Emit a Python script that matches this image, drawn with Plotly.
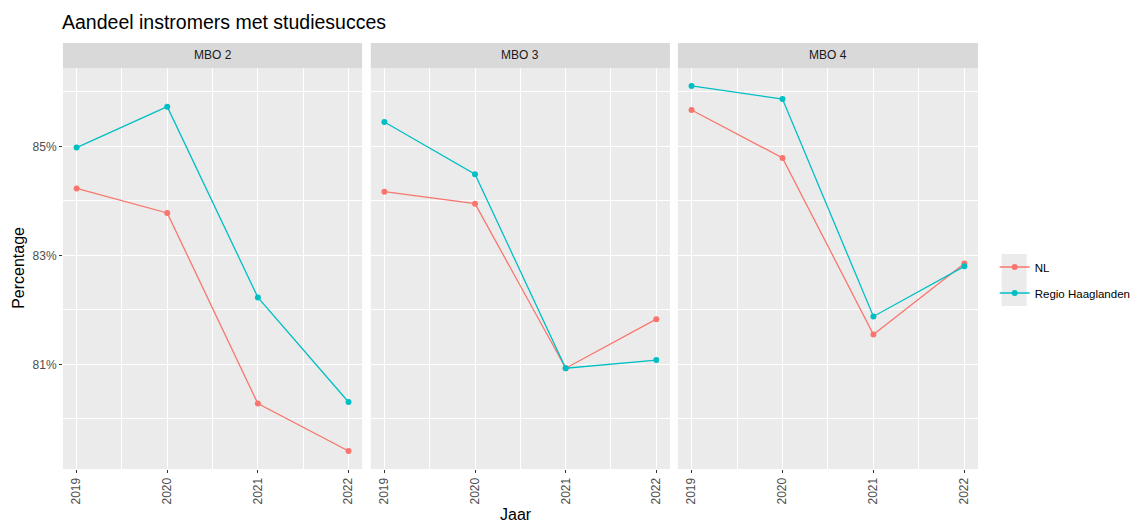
import plotly.graph_objects as go

years = [2019, 2020, 2021, 2022]
panels = ["MBO 2", "MBO 3", "MBO 4"]
nl = {
    "MBO 2": [84.23, 83.78, 80.28, 79.41],
    "MBO 3": [84.17, 83.95, 80.93, 81.83],
    "MBO 4": [85.67, 84.79, 81.55, 82.85],
}
regio = {
    "MBO 2": [84.98, 85.73, 82.23, 80.31],
    "MBO 3": [85.45, 84.49, 80.93, 81.08],
    "MBO 4": [86.11, 85.87, 81.88, 82.80],
}
series = [("NL", nl, "#F8766D", "legend"), ("Regio Haaglanden", regio, "#00BFC4", "legend2")]
y_major = [81, 83, 85]
y_labels = ["81%", "83%", "85%"]

OFF = 8  # page body margin
W, H = 1143 - OFF, 523 - OFF

def P(v):
    return v - OFF

panel_px = [(P(62.7), P(362.0)), (P(370.7), P(670.0)), (P(678.0), P(978.3))]
plot_top_px = P(68)
strip_top_px = P(43)
plot_bot_px = P(469)
ml = panel_px[0][0]
mr = W - panel_px[2][1]
mt = strip_top_px
mb = H - plot_bot_px
pw = W - ml - mr
ph = H - mt - mb

def px_x(x):
    return (x - ml) / pw

def px_y(y):
    return (plot_bot_px - y) / ph

fig = go.Figure()
font_family = "Liberation Sans, Arial, sans-serif"

for i, p in enumerate(panels):
    ax = "" if i == 0 else str(i + 1)
    for name, d, col, lg in series:
        fig.add_trace(go.Scatter(
            x=years, y=d[p], mode="lines+markers", name=name,
            line=dict(color=col, width=1.3), marker=dict(color=col, size=6),
            xaxis="x" + ax, yaxis="y" + ax, showlegend=(i == 0), legendgroup=name,
            legend=lg,
        ))
    x0, x1 = panel_px[i]
    xa = dict(
        domain=[px_x(x0), px_x(x1)], range=[2018.85, 2022.15],
        tickvals=years, ticktext=[str(y) for y in years], tickangle=-90,
        showgrid=True, gridcolor="white", gridwidth=1.1,
        minor=dict(tickvals=[2019.5, 2020.5, 2021.5], showgrid=True, gridcolor="white", gridwidth=0.5, ticks=""),
        ticks="outside", ticklen=3, tickcolor="#333333", tickwidth=1,
        tickfont=dict(size=12, color="#4D4D4D", family=font_family),
        zeroline=False, showline=False, anchor="y" + ax, fixedrange=True,
    )
    ya = dict(
        domain=[0, px_y(plot_top_px)], range=[79.08, 86.44],
        tickvals=y_major, ticktext=y_labels,
        showgrid=True, gridcolor="white", gridwidth=1.1,
        minor=dict(tickvals=[80, 82, 84, 86], showgrid=True, gridcolor="white", gridwidth=0.5, ticks=""),
        ticks="outside" if i == 0 else "", ticklen=3, tickcolor="#333333", tickwidth=1,
        showticklabels=(i == 0),
        tickfont=dict(size=12, color="#4D4D4D", family=font_family),
        zeroline=False, showline=False, anchor="x" + ax, fixedrange=True,
    )
    fig.layout["xaxis" + ax] = xa
    fig.layout["yaxis" + ax] = ya
    fig.add_shape(type="rect", xref="paper", yref="paper",
                  x0=px_x(x0), x1=px_x(x1), y0=px_y(plot_top_px), y1=px_y(strip_top_px),
                  fillcolor="#D9D9D9", line=dict(width=0), layer="below")
    fig.add_annotation(text=p, xref="paper", yref="paper",
                       x=(px_x(x0) + px_x(x1)) / 2, y=(px_y(plot_top_px) + px_y(strip_top_px)) / 2,
                       showarrow=False, font=dict(size=12, color="#1A1A1A", family=font_family),
                       xanchor="center", yanchor="middle")

fig.add_shape(type="rect", xref="paper", yref="paper",
              x0=px_x(P(1002)), x1=px_x(P(1027)), y0=px_y(P(306)), y1=px_y(P(254)),
              fillcolor="#EBEBEB", line=dict(width=0), layer="below")

fig.add_annotation(text="Jaar", xref="paper", yref="paper", x=px_x(P(516)), y=px_y(P(514)),
                   showarrow=False, font=dict(size=16, color="black", family=font_family),
                   xanchor="center", yanchor="middle")
fig.add_annotation(text="Percentage", xref="paper", yref="paper", x=px_x(P(18)), y=px_y(P(267.5)),
                   showarrow=False, textangle=-90, font=dict(size=16, color="black", family=font_family),
                   xanchor="center", yanchor="middle")

leg_common = dict(xanchor="left", yanchor="middle",
                  font=dict(size=11.5, color="black", family=font_family),
                  bgcolor="rgba(0,0,0,0)", itemwidth=30)

fig.update_layout(
    width=W, height=H,
    margin=dict(l=ml, r=mr, t=mt, b=mb, autoexpand=False),
    paper_bgcolor="white", plot_bgcolor="#EBEBEB",
    font=dict(family=font_family),
    title=dict(text="Aandeel instromers met studiesucces", x=P(62) / W, xanchor="left",
               y=1 - P(22) / H, yanchor="middle", font=dict(size=19.5, color="black", family=font_family)),
    legend=dict(x=px_x(P(995)), y=px_y(P(267)), **leg_common),
    legend2=dict(x=px_x(P(995)), y=px_y(P(293)), **leg_common),
)

fig.write_html("out.html")
